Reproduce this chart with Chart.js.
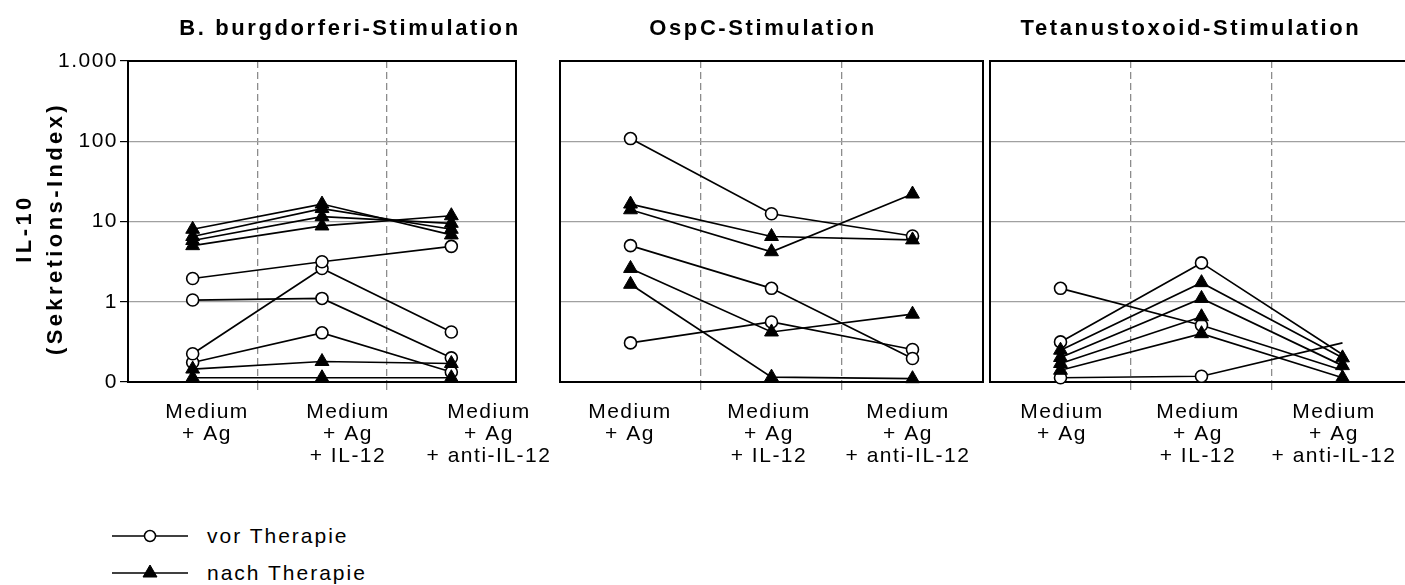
<!DOCTYPE html>
<html>
<head>
<meta charset="utf-8">
<title>IL-10 Sekretions-Index</title>
<script src="https://cdn.jsdelivr.net/npm/chart.js@4"></script>
<style>
  html, body { margin: 0; padding: 0; background: #fff; }
  body { position: relative; width: 1405px; height: 585px; overflow: hidden;
         font-family: "Liberation Sans", Arial, sans-serif; color: #000; }
  canvas { position: absolute; top: 0; }
  .ttl { position: absolute; top: 15px; width: 600px; text-align: center;
         font-weight: bold; font-size: 22px; line-height: 26px; letter-spacing: 2.6px; white-space: nowrap; }
  .leg { position: absolute; left: 112px; height: 24px; display: flex; align-items: center;
         font-size: 21px; letter-spacing: 2px; white-space: nowrap; }
  .leg svg { margin-right: 19px; }
</style>
</head>
<body>
<canvas id="p1" width="580" height="480" style="left:0px"></canvas>
<canvas id="p2" width="480" height="480" style="left:540px"></canvas>
<canvas id="p3" width="480" height="480" style="left:970px"></canvas>

<div class="ttl" id="t1" style="left:50px"></div>
<div class="ttl" id="t2" style="left:463px"></div>
<div class="ttl" id="t3" style="left:891px"></div>

<div class="leg" style="top:524px">
  <svg width="76" height="20" viewBox="0 0 76 20">
    <line x1="0" y1="10" x2="76" y2="10" stroke="#000" stroke-width="1.6"/>
    <circle cx="38" cy="10" r="5.5" fill="#fff" stroke="#000" stroke-width="1.5"/>
  </svg><span id="l1"></span>
</div>
<div class="leg" style="top:561px">
  <svg width="76" height="20" viewBox="0 0 76 20">
    <line x1="0" y1="10" x2="76" y2="10" stroke="#000" stroke-width="1.6"/>
    <polygon points="38,2 45,14 31,14" fill="#000" stroke="#000" stroke-width="1"/>
  </svg><span id="l2"></span>
</div>

<script>
// ---- chart content ----
const categories = [
  ['Medium', '+ Ag'],
  ['Medium', '+ Ag', '+ IL-12'],
  ['Medium', '+ Ag', '+ anti-IL-12']
];
const panelTitles = ['B. burgdorferi-Stimulation', 'OspC-Stimulation', 'Tetanustoxoid-Stimulation'];
const seriesNames = ['vor Therapie', 'nach Therapie'];
const yTitle = ['IL-10', '(Sekretions-Index)'];
const yTickValues = [0.1, 1, 10, 100, 1000];
const yTickLabels = ['0', '1', '10', '100', '1.000'];

// one row per patient, one value per stimulation condition
const burgdorferiVor = [
  [1.95, 3.15, 4.9],
  [1.05, 1.1, 0.2],
  [0.225, 2.6, 0.42],
  [0.175, 0.41, 0.133]
];
const burgdorferiNach = [
  [8.0, 16.5, 6.8],
  [6.5, 14.5, 8.0],
  [5.8, 11.5, 9.5],
  [5.0, 8.8, 11.8],
  [0.145, 0.18, 0.17],
  [0.113, 0.113, 0.113]
];
const ospcVor = [
  [108, 12.5, 6.6],
  [5.0, 1.47, 0.196],
  [0.307, 0.56, 0.254]
];
const ospcNach = [
  [16.5, 6.5, 5.9],
  [14, 4.2, 22],
  [2.6, 0.42, 0.70],
  [1.65, 0.115, 0.11]
];
const tetanusVor = [
  [1.47, 0.51, 0.14],
  [0.316, 3.05, 0.22],
  [0.113, 0.118, 0.307]
];
const tetanusNach = [
  [0.249, 1.73, 0.20],
  [0.202, 1.10, 0.16],
  [0.170, 0.65, null],
  [0.140, 0.40, 0.113]
];

// ---- page text ----
panelTitles.forEach((t, i) => { document.getElementById('t' + (i + 1)).textContent = t; });
document.getElementById('l1').textContent = seriesNames[0];
document.getElementById('l2').textContent = seriesNames[1];

// ---- drawing ----
Chart.defaults.font.family = '"Liberation Sans", Arial, sans-serif';
Chart.defaults.font.size = 21;
Chart.defaults.color = '#000';

const BASE_SPACING = '1.5px';
const spacingPlugin = {
  id: 'spacing',
  beforeUpdate(chart) { chart.ctx.letterSpacing = BASE_SPACING; },
  beforeDraw(chart) { chart.ctx.letterSpacing = BASE_SPACING; }
};

// wraps one drawing step of a scale with its own letter spacing and a small shift
function spacedStep(name, spacing, dx, dy) {
  return scale => {
    if (scale['_spaced_' + name]) return;
    const orig = scale[name];
    scale[name] = function (...args) {
      const ctx = this.ctx;
      ctx.save();
      ctx.letterSpacing = spacing;
      ctx.translate(dx, dy);
      const r = orig.apply(this, args);
      ctx.restore();
      return r;
    };
    scale['_spaced_' + name] = true;
  };
}

// black frame around each plot area, under the lines and markers
const framePlugin = {
  id: 'frame',
  beforeDatasetsDraw(chart) {
    const { ctx, chartArea: a } = chart;
    ctx.save();
    ctx.strokeStyle = '#000';
    ctx.lineWidth = 2;
    ctx.strokeRect(a.left, a.top, a.right - a.left, a.bottom - a.top);
    ctx.restore();
  }
};

function toPoints(values) {
  return values.map((v, i) => ({ x: i, y: v }));
}

function makePanel(id, vor, nach, opt) {
  const datasets = [];
  nach.forEach(values => datasets.push({
    label: seriesNames[1],
    data: toPoints(values),
    borderColor: '#000',
    borderWidth: 1.7,
    pointStyle: 'triangle',
    pointRadius: 8,
    pointBackgroundColor: '#000',
    pointBorderColor: '#000',
    pointBorderWidth: 1,
    clip: false,
    tension: 0
  }));
  vor.forEach(values => datasets.push({
    label: seriesNames[0],
    data: toPoints(values),
    borderColor: '#000',
    borderWidth: 1.7,
    pointStyle: 'circle',
    pointRadius: opt.hideLastVor ? (c => (c.dataIndex === 2 ? 0 : 6)) : 6,
    pointBackgroundColor: '#fff',
    pointBorderColor: '#000',
    pointBorderWidth: 1.6,
    clip: false,
    tension: 0
  }));

  // category labels sit on their own evenly spaced scale
  const plotW = opt.right - opt.left;
  const lblMin = -(opt.labelStart - opt.left) / opt.labelStep;
  const lblMax = lblMin + plotW / opt.labelStep;

  return new Chart(document.getElementById(id), {
    type: 'line',
    data: { datasets },
    options: {
      responsive: false,
      animation: false,
      devicePixelRatio: 1,
      events: [],
      layout: { padding: opt.padding },
      plugins: { legend: { display: false }, tooltip: { enabled: false }, title: { display: false } },
      scales: {
        x: {
          type: 'linear', position: 'bottom', weight: 0,
          min: -0.5, max: 2.5,
          afterBuildTicks: s => { s.ticks = [{ value: 0.5 }, { value: 1.5 }]; },
          afterFit: s => { s.height = 8; },
          ticks: { display: false },
          grid: { color: '#8c8c8c', lineWidth: 1.3, tickLength: 8, drawTicks: true },
          border: { display: false, dash: [7, 4] }
        },
        xl: {
          type: 'linear', position: 'bottom', weight: 1,
          min: lblMin, max: lblMax,
          afterBuildTicks: s => { s.ticks = categories.map((c, i) => ({ value: i })); },
          afterFit: s => { s.height = 90; },
          grid: { display: false, drawTicks: false },
          border: { display: false },
          ticks: {
            autoSkip: false, maxRotation: 0, minRotation: 0, padding: 11,
            font: { size: 21, lineHeight: 1.05 }, color: '#000',
            callback: v => categories[Math.round(v)]
          }
        },
        y: {
          type: 'logarithmic', position: 'left',
          min: yTickValues[0], max: yTickValues[yTickValues.length - 1],
          afterBuildTicks: s => { s.ticks = yTickValues.map(v => ({ value: v })); },
          afterFit: s => { s.width = opt.yWidth; },
          afterUpdate: s => { spacedStep('drawTitle', '3.4px', 0, 7)(s); },
          grid: { color: '#a0a0a0', lineWidth: 1.2, drawTicks: opt.showY, tickLength: 8, tickColor: '#000' },
          border: { display: false },
          ticks: {
            display: opt.showY, padding: 2, font: { size: 21 }, color: '#000',
            callback: (v, i) => yTickLabels[i]
          },
          title: {
            display: opt.showY, text: yTitle, color: '#000',
            font: { size: 22, weight: 'bold', lineHeight: 1.4 },
            padding: { top: 10, bottom: 0 }
          }
        }
      }
    },
    plugins: [spacingPlugin, framePlugin]
  });
}

makePanel('p1', burgdorferiVor, burgdorferiNach, {
  left: 128, right: 516, labelStart: 207, labelStep: 141,
  yWidth: 128, showY: true, hideLastVor: false,
  padding: { left: 0, right: 64, top: 61, bottom: 0 }
});
makePanel('p2', ospcVor, ospcNach, {
  left: 560, right: 983, labelStart: 630, labelStep: 139,
  yWidth: 0, showY: false, hideLastVor: false,
  padding: { left: 20, right: 37, top: 61, bottom: 0 }
});
makePanel('p3', tetanusVor, tetanusNach, {
  left: 990, right: 1413, labelStart: 1062, labelStep: 136,
  yWidth: 0, showY: false, hideLastVor: true,
  padding: { left: 20, right: 37, top: 61, bottom: 0 }
});
</script>
</body>
</html>
